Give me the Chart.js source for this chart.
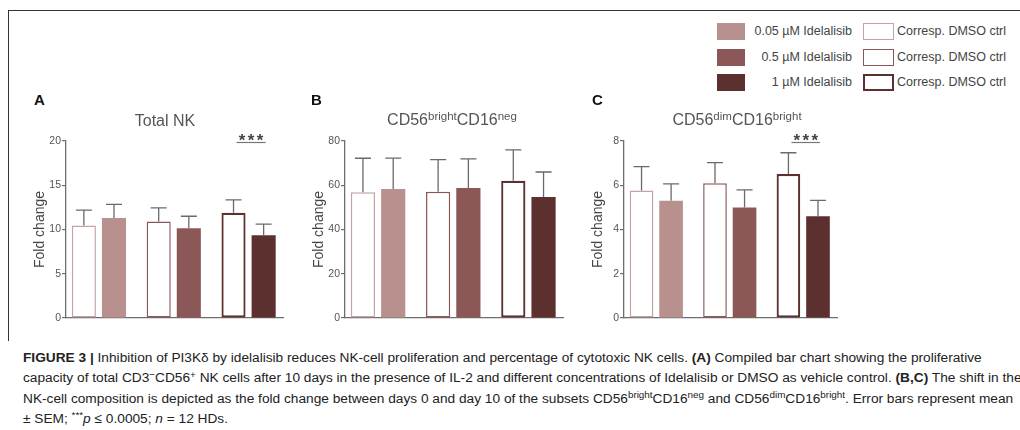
<!DOCTYPE html>
<html>
<head>
<meta charset="utf-8">
<script src="https://cdn.jsdelivr.net/npm/chart.js@4.4.0/dist/chart.umd.min.js"></script>
<style>
  body { margin: 0; width: 1020px; height: 430px; overflow: hidden; background: #fff; position: relative;
         font-family: "Liberation Sans", Arial, Helvetica, sans-serif; }
  .abs { position: absolute; }
  .frame { left: 8px; top: 10px; width: 1020px; height: 330px; border-top: 1px solid #333; border-left: 1px solid #333; }
  canvas { position: absolute; }
  .letter { font-weight: bold; font-size: 15px; color: #111; }
  .title { font-size: 16px; color: #555; white-space: nowrap; transform: translateX(-50%); }
  sup { font-size: 72%; line-height: 0; position: relative; top: -0.45em; vertical-align: baseline; }
  .sw { width: 28px; height: 17px; box-sizing: border-box; }
  .osw { width: 31px; height: 17px; box-sizing: border-box; background: #fff; }
  .lg { font-size: 12.5px; color: #444; line-height: 17px; white-space: nowrap; }
  .caption { left: 23px; top: 348px; font-size: 13.7px; line-height: 20.3px; color: #222; white-space: nowrap; }
</style>
</head>
<body>
<div class="abs frame"></div>

<div class="abs sw" style="left:717px; top:23px; background:#b8918f"></div>
<div class="abs sw" style="left:717px; top:48.5px; background:#8c5857"></div>
<div class="abs sw" style="left:717px; top:74px; background:#5c302e"></div>
<div class="abs lg" style="right:168px; top:23px; text-align:right">0.05 µM Idelalisib</div>
<div class="abs lg" style="right:168px; top:48.5px; text-align:right">0.5 µM Idelalisib</div>
<div class="abs lg" style="right:168px; top:74px; text-align:right">1 µM Idelalisib</div>
<div class="abs osw" style="left:863px; top:23px; border:1px solid #c6a3a3"></div>
<div class="abs osw" style="left:863px; top:48.5px; border:1.5px solid #8c5857"></div>
<div class="abs osw" style="left:863px; top:74px; border:2px solid #5c302e"></div>
<div class="abs lg" style="left:897px; top:23px">Corresp. DMSO ctrl</div>
<div class="abs lg" style="left:897px; top:48.5px">Corresp. DMSO ctrl</div>
<div class="abs lg" style="left:897px; top:74px">Corresp. DMSO ctrl</div>

<canvas id="panelA" width="280" height="210" style="left:24px; top:121px"></canvas>
<canvas id="panelB" width="280" height="210" style="left:303px; top:121px"></canvas>
<canvas id="panelC" width="280" height="210" style="left:582px; top:121px"></canvas>

<div class="abs letter" style="left:34px; top:91px">A</div>
<div class="abs letter" style="left:311px; top:91px">B</div>
<div class="abs letter" style="left:592px; top:91px">C</div>
<div class="abs title" style="left:165px; top:112px">Total NK</div>
<div class="abs title" style="left:452px; top:111px">CD56<sup>bright</sup>CD16<sup>neg</sup></div>
<div class="abs title" style="left:737px; top:111px">CD56<sup>dim</sup>CD16<sup>bright</sup></div>

<div class="abs caption">
<b>FIGURE 3 |</b> Inhibition of PI3Kδ by idelalisib reduces NK-cell proliferation and percentage of cytotoxic NK cells. <b>(A)</b> Compiled bar chart showing the proliferative<br>
capacity of total CD3<sup>−</sup>CD56<sup>+</sup> NK cells after 10 days in the presence of IL-2 and different concentrations of Idelalisib or DMSO as vehicle control. <b>(B,C)</b> The shift in the<br>
NK-cell composition is depicted as the fold change between days 0 and day 10 of the subsets CD56<sup>bright</sup>CD16<sup>neg</sup> and CD56<sup>dim</sup>CD16<sup>bright</sup>. Error bars represent mean<br>
± SEM; <sup>***</sup><i>p</i> ≤ 0.0005; <i>n</i> = 12 HDs.
</div>

<script>
// groups: idelalisib concentration, each paired with its DMSO control
const groups = ["0.05 µM", "0.5 µM", "1 µM"];
const shadeColors = ["#b8918f", "#8c5857", "#5c302e"];
const ctrlBorderColors = ["#c6a3a3", "#8c5857", "#5c302e"];

// A - Total NK
const totalNkCtrl = [10.45, 10.9, 11.9];
const totalNkCtrlSem = [1.75, 1.55, 1.45];
const totalNkIdel = [11.3, 10.15, 9.35];
const totalNkIdelSem = [1.55, 1.35, 1.25];
const totalNkTicks = [0, 5, 10, 15, 20];
const totalNkSig = [2];

// B - CD56bright CD16neg
const brightCtrl = [56.8, 57.1, 62.0];
const brightCtrlSem = [15.4, 14.5, 14.0];
const brightIdel = [58.3, 58.8, 54.7];
const brightIdelSem = [14.0, 13.1, 11.3];
const brightTicks = [0, 20, 40, 60, 80];
const brightSig = [];

// C - CD56dim CD16bright
const dimCtrl = [5.76, 6.09, 6.51];
const dimCtrlSem = [1.08, 0.93, 0.96];
const dimIdel = [5.3, 4.99, 4.6];
const dimIdelSem = [0.76, 0.8, 0.72];
const dimTicks = [0, 2, 4, 6, 8];
const dimSig = [2];

Chart.defaults.font.family = "'Liberation Sans', Arial, Helvetica, sans-serif";
const axisColor = "#6e6e6e";

const errorBars = {
  id: "errorBars",
  afterDatasetsDraw(chart) {
    const ctx = chart.ctx;
    const yScale = chart.scales.y;
    ctx.save();
    ctx.strokeStyle = "#6a6a6a";
    ctx.lineWidth = 1.3;
    chart.data.datasets.forEach((ds, di) => {
      chart.getDatasetMeta(di).data.forEach((bar, i) => {
        const top = yScale.getPixelForValue(ds.data[i].y + ds.sem[i]);
        ctx.beginPath();
        ctx.moveTo(bar.x, bar.y);
        ctx.lineTo(bar.x, top);
        ctx.moveTo(bar.x - 8, top);
        ctx.lineTo(bar.x + 8, top);
        ctx.stroke();
      });
    });
    ctx.restore();
  }
};

const sigMarks = {
  id: "sigMarks",
  afterDatasetsDraw(chart, args, opts) {
    const ctx = chart.ctx;
    ctx.save();
    (opts.groups || []).forEach((g) => {
      const a = chart.getDatasetMeta(0).data[g];
      const b = chart.getDatasetMeta(1).data[g];
      const yLine = chart.chartArea.top + 1.5;
      ctx.strokeStyle = "#777";
      ctx.lineWidth = 1.2;
      ctx.beginPath();
      ctx.moveTo(a.x + 3, yLine);
      ctx.lineTo(b.x + 2, yLine);
      ctx.stroke();
      ctx.fillStyle = "#444";
      ctx.font = "bold 17px 'Liberation Sans', Arial, sans-serif";
      ctx.textAlign = "center";
      ctx.textBaseline = "alphabetic";
      const mid = (a.x + b.x) / 2 + 2.5;
      [-9, 0, 9].forEach((dx) => ctx.fillText("*", mid + dx, yLine + 3.5));
    });
    ctx.restore();
  }
};

function makePanel(id, ctrl, ctrlSem, idel, idelSem, ticks, sig, padRight) {
  const canvas = document.getElementById(id);
  return new Chart(canvas, {
    type: "bar",
    data: {
      datasets: [
        {
          label: "Corresp. DMSO ctrl",
          data: ctrl.map((v, i) => ({ x: i + 1, y: v })),
          sem: ctrlSem,
          backgroundColor: "#ffffff",
          borderColor: ctrlBorderColors,
          borderWidth: [1.5, 1.5, 2.2],
          borderSkipped: false
        },
        {
          label: "Idelalisib",
          data: idel.map((v, i) => ({ x: i + 1, y: v })),
          sem: idelSem,
          backgroundColor: shadeColors,
          borderWidth: 0
        }
      ]
    },
    options: {
      responsive: false,
      animation: false,
      events: [],
      categoryPercentage: 0.805,
      barPercentage: 0.8,
      layout: { padding: { top: 20, bottom: 13, left: 0, right: padRight } },
      plugins: {
        legend: { display: false },
        tooltip: { enabled: false },
        sigMarks: { groups: sig }
      },
      scales: {
        x: {
          type: "linear",
          offset: false,
          min: 0.56,
          max: 3.46,
          ticks: { display: false },
          grid: { display: false },
          border: { color: axisColor, width: 1.3 },
          afterFit: (scale) => { scale.height = 0; }
        },
        y: {
          min: ticks[0],
          max: ticks[ticks.length - 1],
          ticks: { stepSize: ticks[1] - ticks[0], color: "#555", font: { size: 10.5 }, padding: 1 },
          grid: { drawOnChartArea: false, drawTicks: true, tickLength: 4, color: axisColor, lineWidth: 1.2 },
          border: { color: axisColor, width: 1.3 },
          title: { display: true, text: "Fold change", color: "#444", font: { size: 14 }, padding: { top: 8, bottom: 0 } },
          afterFit: (scale) => { scale.width = 42; }
        }
      }
    },
    plugins: [errorBars, sigMarks]
  });
}

makePanel("panelA", totalNkCtrl, totalNkCtrlSem, totalNkIdel, totalNkIdelSem, totalNkTicks, totalNkSig, 21);
makePanel("panelB", brightCtrl, brightCtrlSem, brightIdel, brightIdelSem, brightTicks, brightSig, 20);
makePanel("panelC", dimCtrl, dimCtrlSem, dimIdel, dimIdelSem, dimTicks, dimSig, 25);
</script>
</body>
</html>
